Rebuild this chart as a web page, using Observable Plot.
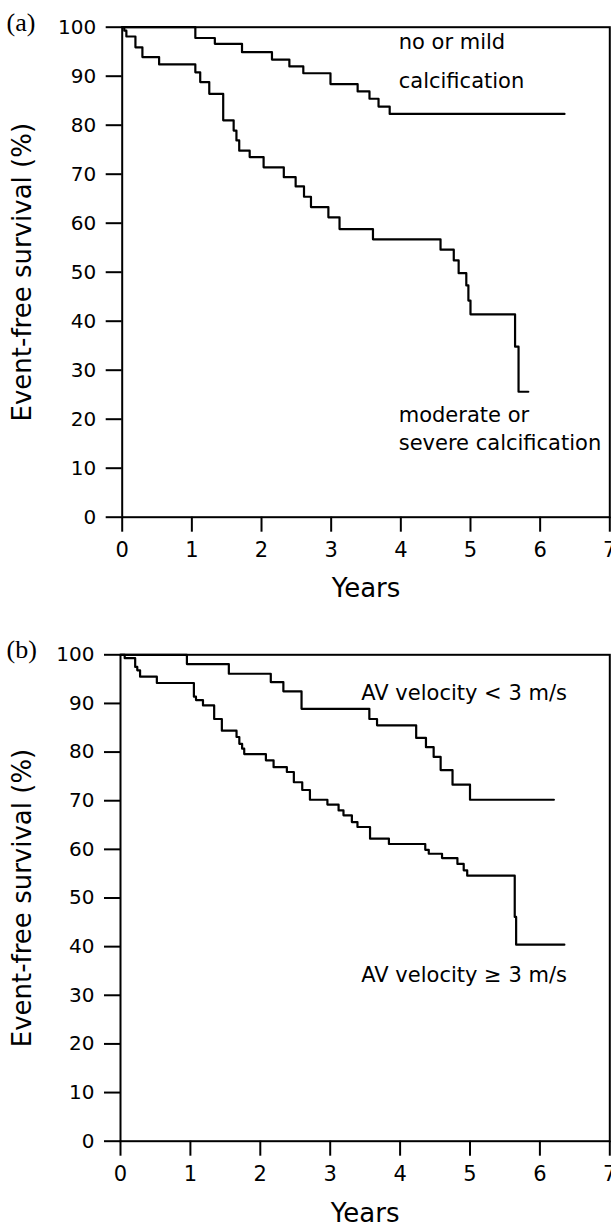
<!DOCTYPE html>
<html>
<head>
<meta charset="utf-8">
<script src="https://cdn.jsdelivr.net/npm/d3@7"></script>
<script src="https://cdn.jsdelivr.net/npm/@observablehq/plot@0.6"></script>
<style>
  html, body { margin: 0; padding: 0; background: #fff; }
  #chart svg { display: block; }
</style>
</head>
<body>
<div id="chart"></div>
<script>
// ---- tick labels ----
const xTicks = [0, 1, 2, 3, 4, 5, 6, 7];
const yTicks = [0, 10, 20, 30, 40, 50, 60, 70, 80, 90, 100];
const xTitle = "Years";
const yTitle = "Event-free survival (%)";

// ---- panel (a): calcification ----
const aMildYears = [0, 1.05, 1.33, 1.72, 2.15, 2.40, 2.60, 2.99, 3.38, 3.55, 3.68, 3.84, 6.35];
const aMildSurv  = [100, 97.8, 96.6, 94.9, 93.4, 92.0, 90.6, 88.4, 86.9, 85.4, 83.8, 82.3, 82.3];
const aSevereYears = [0, 0.03, 0.06, 0.19, 0.29, 0.53, 1.05, 1.12, 1.25, 1.45, 1.60, 1.64, 1.68, 1.83,
  2.03, 2.32, 2.49, 2.61, 2.71, 2.96, 3.12, 3.60, 4.57, 4.76, 4.83, 4.94, 4.97, 5.00, 5.64, 5.69, 5.83];
const aSevereSurv = [100, 99.3, 98.1, 95.9, 93.9, 92.4, 90.8, 88.8, 86.4, 81.0, 78.9, 76.9, 74.8, 73.5,
  71.4, 69.4, 67.5, 65.4, 63.3, 61.2, 58.8, 56.7, 54.6, 52.4, 49.8, 47.3, 44.2, 41.4, 34.8, 25.6, 25.6];
const aLabels = ["no or mild", "calcification", "moderate or", "severe calcification"];
const aLabelYears = [3.97, 3.97, 3.97, 3.97];
const aLabelSurv = [97.0, 89.0, 20.8, 15.0];

// ---- panel (b): AV velocity ----
const bLowYears = [0, 0.95, 1.55, 2.15, 2.33, 2.59, 3.56, 3.67, 4.23, 4.37, 4.48, 4.58, 4.75, 5.00, 6.20];
const bLowSurv  = [100, 98.1, 96.1, 94.4, 92.5, 88.9, 86.8, 85.5, 82.9, 81.0, 79.0, 76.3, 73.3, 70.2, 70.2];
const bHighYears = [0, 0.06, 0.21, 0.24, 0.28, 0.52, 1.05, 1.08, 1.18, 1.34, 1.45, 1.66, 1.70, 1.74, 1.77,
  2.08, 2.19, 2.38, 2.48, 2.60, 2.71, 2.96, 3.12, 3.19, 3.31, 3.39, 3.57, 3.84, 4.36, 4.41, 4.60, 4.82,
  4.91, 4.96, 5.64, 5.66, 6.35];
const bHighSurv = [100, 99.3, 97.5, 96.8, 95.5, 94.2, 91.4, 90.7, 89.6, 86.8, 84.4, 83.1, 81.7, 80.7, 79.6,
  78.3, 76.9, 75.9, 73.8, 72.2, 70.2, 69.2, 68.0, 67.0, 65.6, 64.6, 62.2, 61.1, 59.9, 59.1, 58.2, 57.0,
  55.7, 54.6, 46.1, 40.4, 40.4];
const bLabels = ["AV velocity < 3 m/s", "AV velocity \u2265 3 m/s"];
const bLabelYears = [3.445, 3.445];
const bLabelSurv = [92.0, 34.1];

const toRows = (xs, ys) => xs.map((t, i) => ({t, s: ys[i]}));

function panel({tag, curves, labels, lx, ly, height, mTop, mBottom, mLeft, yearsDy}) {
  const font = "DejaVu Sans";
  return Plot.plot({
    width: 611,
    height,
    marginTop: mTop,
    marginBottom: mBottom,
    marginLeft: mLeft,
    marginRight: 1.7,
    x: {domain: [0, 7]},
    y: {domain: [0, 100]},
    style: {fontFamily: font, fontSize: "20px", color: "black", background: "white", overflow: "visible"},
    marks: [
      Plot.frame({stroke: "black", strokeWidth: 2}),
      Plot.axisY({ticks: yTicks, tickFormat: d => String(d), tickSize: 16, tickPadding: 10,
        fontSize: 20, strokeWidth: 2, label: null}),
      Plot.axisX({ticks: xTicks, tickFormat: d => String(d), tickSize: 15, tickPadding: 10,
        fontSize: 21, strokeWidth: 2, label: null}),
      ...curves.map(([xs, ys]) =>
        Plot.line(toRows(xs, ys), {x: "t", y: "s", curve: "step-after", stroke: "black", strokeWidth: 2.2})),
      Plot.text(labels.map((l, i) => ({l, x: lx[i], y: ly[i]})), {
        x: "x", y: "y", text: "l", textAnchor: "start", lineAnchor: "middle", fontSize: 21, fill: "black"
      }),
      Plot.text([tag], {text: d => d, frameAnchor: "top-left", dx: 6 - mLeft, dy: -5,
        textAnchor: "start", lineAnchor: "middle", fontFamily: "Liberation Serif", fontSize: 26, fill: "black"}),
      Plot.text([yTitle], {text: d => d, frameAnchor: "left", rotate: -90, dx: 21.7 - mLeft,
        textAnchor: "middle", lineAnchor: "middle", fontSize: 26, fill: "black"}),
      Plot.text([xTitle], {text: d => d, frameAnchor: "bottom", dy: yearsDy,
        textAnchor: "middle", lineAnchor: "middle", fontSize: 26, fill: "black"})
    ]
  });
}

const chart = document.getElementById("chart");
chart.append(panel({
  tag: "(a)",
  curves: [[aMildYears, aMildSurv], [aSevereYears, aSevereSurv]],
  labels: aLabels, lx: aLabelYears, ly: aLabelSurv,
  height: 610, mTop: 26.7, mBottom: 93.3, mLeft: 121.7, yearsDy: 71.3
}));
chart.append(panel({
  tag: "(b)",
  curves: [[bLowYears, bLowSurv], [bHighYears, bHighSurv]],
  labels: bLabels, lx: bLabelYears, ly: bLabelSurv,
  height: 619, mTop: 44.3, mBottom: 88.3, mLeft: 120, yearsDy: 72
}));
</script>
</body>
</html>
